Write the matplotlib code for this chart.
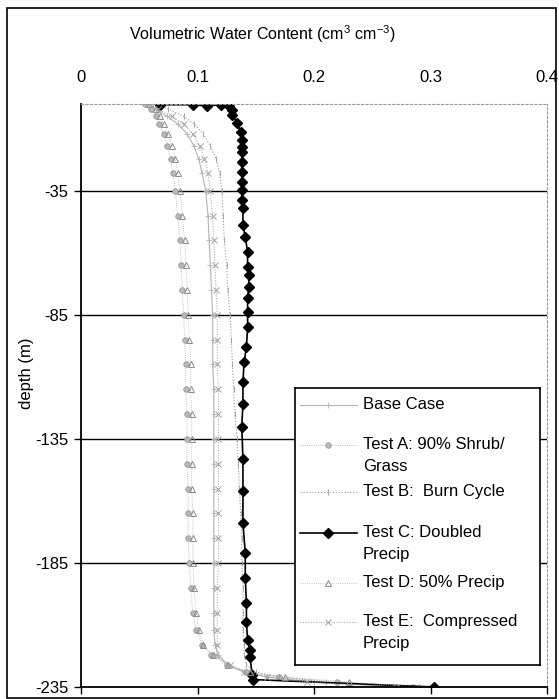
import numpy as np
import matplotlib
matplotlib.use("Agg")
import matplotlib.pyplot as plt
from matplotlib.patches import Rectangle

plt.rcParams['font.family'] = ['Liberation Sans', 'DejaVu Sans']
plt.rcParams['mathtext.default'] = 'regular'

# depth nodes shared by the gray runs (m)
depth = [0, -2, -5, -8, -12, -17, -22, -28, -35, -45, -55, -65, -75, -85, -95,
         -105, -115, -125, -135, -145, -155, -165, -175, -185, -195, -205,
         -212, -218, -222, -226, -229, -231, -233, -235]

base_case = [0.058, 0.064, 0.074, 0.083, 0.091, 0.097, 0.101, 0.104, 0.107, 0.109,
             0.110, 0.111, 0.112, 0.113, 0.113, 0.113, 0.114, 0.114, 0.114, 0.114,
             0.114, 0.114, 0.114, 0.114, 0.114, 0.114, 0.114, 0.115, 0.118, 0.125,
             0.140, 0.160, 0.200, 0.280]
test_a = [0.055, 0.060, 0.064, 0.067, 0.071, 0.074, 0.077, 0.079, 0.081, 0.083,
          0.085, 0.086, 0.087, 0.088, 0.089, 0.090, 0.090, 0.091, 0.091, 0.091,
          0.092, 0.092, 0.092, 0.093, 0.094, 0.096, 0.099, 0.104, 0.112, 0.125,
          0.142, 0.170, 0.220, 0.285]
test_b = [0.062, 0.075, 0.088, 0.097, 0.105, 0.111, 0.116, 0.119, 0.121, 0.122,
          0.123, 0.125, 0.126, 0.128, 0.129, 0.130, 0.131, 0.132, 0.134, 0.135,
          0.136, 0.137, 0.138, 0.138, 0.139, 0.139, 0.139, 0.140, 0.140, 0.142,
          0.150, 0.170, 0.210, 0.290]
test_d = [0.058, 0.064, 0.068, 0.071, 0.075, 0.078, 0.081, 0.083, 0.085, 0.087,
          0.089, 0.090, 0.091, 0.092, 0.093, 0.094, 0.094, 0.095, 0.095, 0.095,
          0.095, 0.096, 0.096, 0.096, 0.097, 0.099, 0.101, 0.105, 0.113, 0.126,
          0.145, 0.175, 0.230, 0.290]
test_e = [0.058, 0.066, 0.078, 0.088, 0.096, 0.102, 0.106, 0.109, 0.111, 0.113,
          0.114, 0.115, 0.116, 0.117, 0.117, 0.117, 0.118, 0.118, 0.118, 0.118,
          0.118, 0.118, 0.118, 0.118, 0.117, 0.117, 0.117, 0.117, 0.116, 0.128,
          0.140, 0.160, 0.194, 0.270]

# doubled precip run has its own node list
depth_c = [-0.3, -0.3, -0.8, -0.3, -1.0, -2.4, -4.4, -7.7, -11.3, -14.5, -17.3,
           -19.4, -23.4, -27.4, -31.5, -34.7, -38.7, -41.9, -48.8, -53.6, -59.7,
           -65.7, -68.9, -73.8, -78, -84, -90, -98, -104, -112, -121, -130, -143,
           -156, -169, -181, -191, -201, -209, -216, -220, -223, -230, -232, -235]
test_c = [0.068, 0.096, 0.108, 0.120, 0.127, 0.130, 0.130, 0.134, 0.137, 0.138,
          0.138, 0.138, 0.138, 0.138, 0.138, 0.138, 0.138, 0.139, 0.139, 0.141,
          0.143, 0.143, 0.144, 0.144, 0.143, 0.143, 0.143, 0.142, 0.140, 0.139,
          0.139, 0.138, 0.139, 0.139, 0.139, 0.141, 0.141, 0.142, 0.142, 0.143,
          0.145, 0.145, 0.147, 0.148, 0.303]

xticks = [0, 0.1, 0.2, 0.3, 0.4]
yticks = [-35, -85, -135, -185, -235]

labels = ['Base Case', 'Test A: 90% Shrub/\nGrass', 'Test B:  Burn Cycle',
          'Test C: Doubled\nPrecip', 'Test D: 50% Precip',
          'Test E:  Compressed\nPrecip']

styles = [
    dict(color='#b4b4b4', lw=0.8, marker='+', ms=4, mew=0.6),
    dict(color='#a8a8a8', lw=0.6, ls=':', marker='o', ms=4, mfc='#b8b8b8',
         mec='#909090', mew=0.5),
    dict(color='#9a9a9a', lw=0.8, ls=':', marker='|', ms=4, mew=0.6),
    dict(color='black', lw=1.2, marker='D', ms=5.5),
    dict(color='#b0b0b0', lw=0.6, ls=':', marker='^', ms=5, mfc='none',
         mec='#8c8c8c', mew=0.7),
    dict(color='#a0a0a0', lw=0.7, ls=':', marker='x', ms=5, mew=0.7),
]

fig = plt.figure(figsize=(5.59, 6.99), dpi=100)
ax = fig.add_axes([81/559, 1-687/699, 466/559, 583/699])

series = [(base_case, depth), (test_a, depth), (test_b, depth),
          (test_c, depth_c), (test_d, depth), (test_e, depth)]
for (xs, ys), st in zip(series, styles):
    ax.plot(xs, ys, **st)

ax.set_xlim(0, 0.4)
ax.set_ylim(-235, 0)
ax.set_xticks(xticks)
ax.set_xticklabels(['0', '0.1', '0.2', '0.3', '0.4'])
ax.set_yticks(yticks)
ax.set_yticklabels([str(t) for t in yticks])

ax.tick_params(axis='x', bottom=True, top=False, labelbottom=False, labeltop=True,
               direction='out', length=5, width=1, pad=9, labelsize=12)
ax.tick_params(axis='y', left=True, direction='out', length=5, width=1,
               pad=4, labelsize=12)

ax.grid(axis='y', color='black', lw=1)
ax.set_axisbelow(True)

for side in ['top', 'right']:
    ax.spines[side].set_color('#9a9a9a')
    ax.spines[side].set_linestyle((0, (2, 2)))
    ax.spines[side].set_linewidth(0.8)
for side in ['left', 'bottom']:
    ax.spines[side].set_color('black')
    ax.spines[side].set_linewidth(1.3)

fig.text(262/559, 1-34/699, 'Volumetric Water Content (cm$^3$ cm$^{-3}$)',
         ha='center', va='center', fontsize=11.5)
fig.text(27/559, 1-373/699, 'depth (m)', rotation=90, ha='center', va='center',
         fontsize=12)

# legend box, laid out in its own pixel-scaled axes
lx0, ly0, lx1, ly1 = 295, 388, 540, 665
lax = fig.add_axes([lx0/559, 1-ly1/699, (lx1-lx0)/559, (ly1-ly0)/699])
lax.set_xlim(0, lx1-lx0)
lax.set_ylim(ly1-ly0, 0)
lax.set_xticks([])
lax.set_yticks([])
for sp in lax.spines.values():
    sp.set_color('black')
    sp.set_linewidth(1.2)
row_y = [17, 57, 104, 145, 195, 234]
for lab, st, yy in zip(labels, styles, row_y):
    lax.plot([5, 62], [yy, yy], markevery=[], **st)
    lax.plot([33], [yy], **{k: v for k, v in st.items() if k not in ('ls', 'lw')},
             ls='none')
    lax.text(68, yy - 8, lab, ha='left', va='top', fontsize=12, linespacing=1.55)

# chart area border
fig.patches.append(Rectangle((7/559, 1/699), 549/559, 690/699, transform=fig.transFigure,
                             fill=False, ec='black', lw=1.2))

fig.savefig('out.png', dpi=100)
